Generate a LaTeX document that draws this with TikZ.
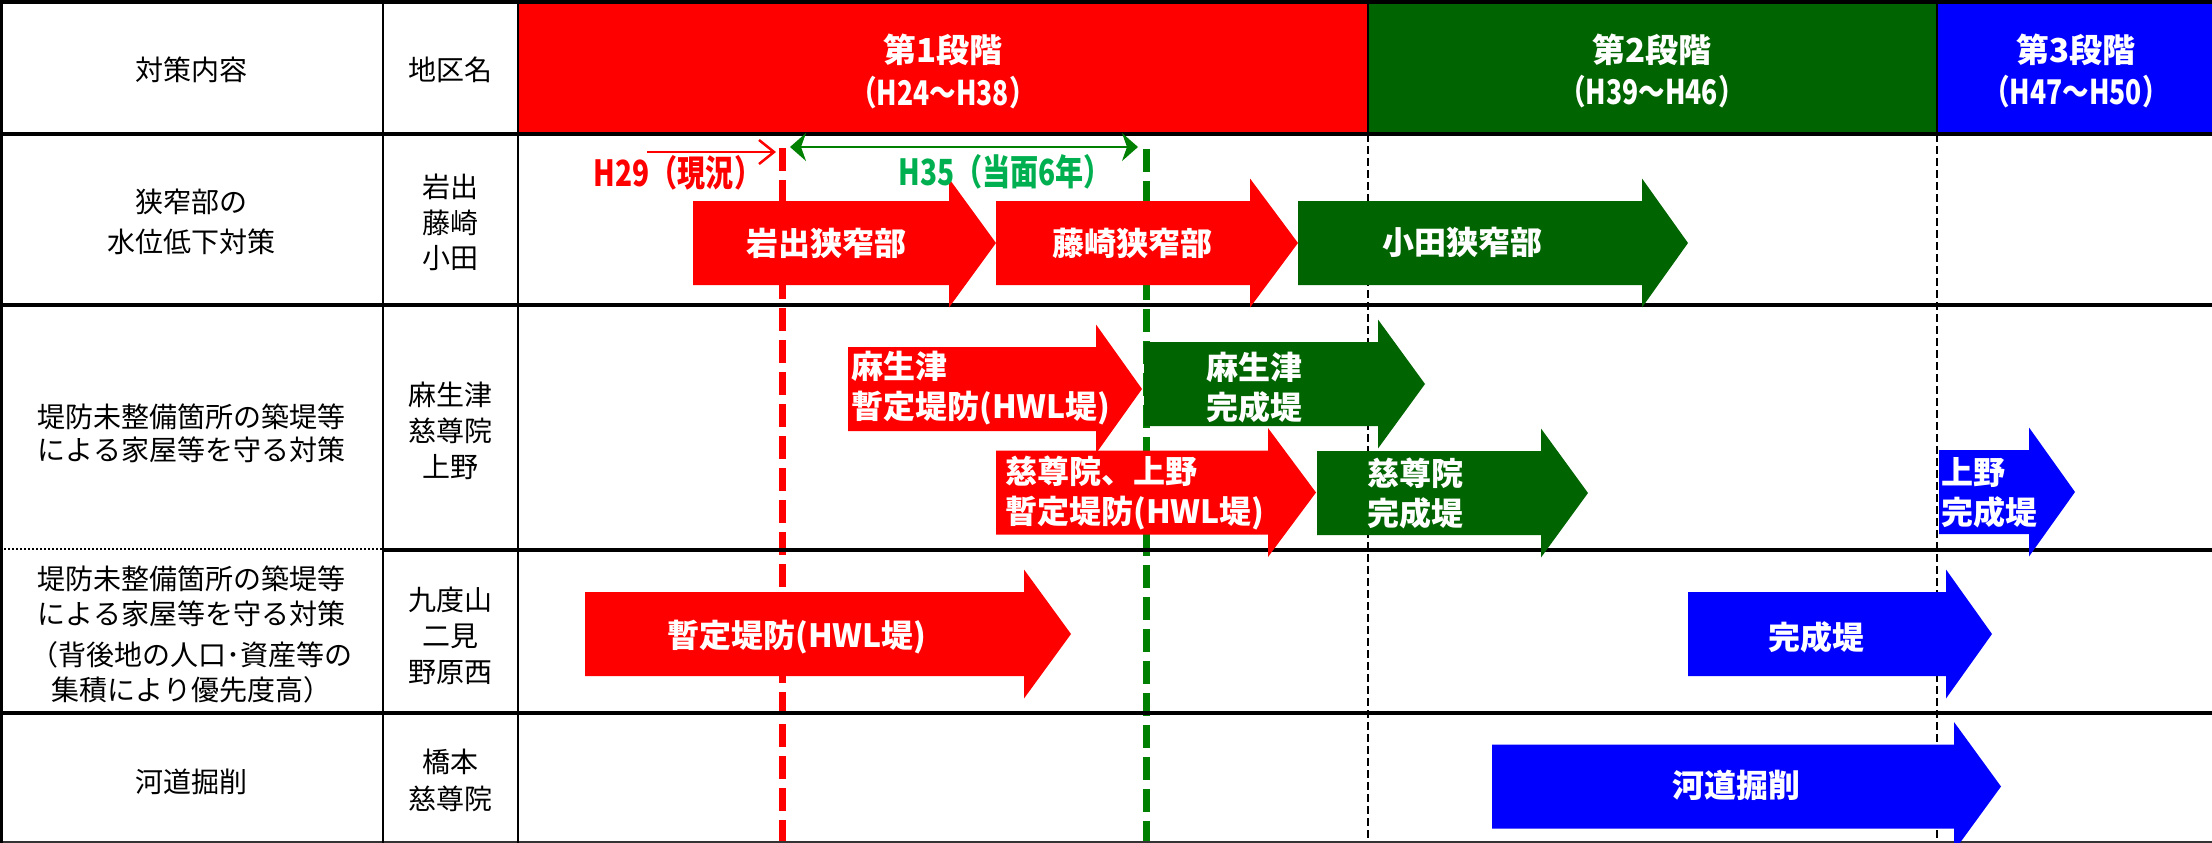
\documentclass[tikz,border=0pt]{standalone}
\usepackage{fontspec}
\setmainfont{Noto Sans CJK JP}
\newfontfamily\condfont[FakeStretch=0.78]{Noto Sans CJK JP}
\usetikzlibrary{arrows.meta}
\definecolor{cred}{RGB}{255,0,0}
\definecolor{cgreen}{RGB}{0,100,0}
\definecolor{cblue}{RGB}{0,0,255}
\definecolor{lgreen}{RGB}{0,176,80}
\definecolor{dgreen}{RGB}{0,128,0}
% block arrow: colour, x start, x head base, x tip, y centre
\newcommand\blockarrow[5]{\fill[#1] ({#2},{#5-42}) -- ({#3},{#5-42}) -- ({#3},{#5-64.5}) -- ({#4},{#5}) -- ({#3},{#5+64.5}) -- ({#3},{#5+42}) -- ({#2},{#5+42}) -- cycle;}
\begin{document}
\begin{tikzpicture}[x=1pt,y=-1pt,
  cell/.style={inner sep=0pt, align=center, font=\fontsize{28}{35}\selectfont},
  stagetxt/.style={inner sep=0pt, text=white, font=\bfseries\fontsize{33}{38}\selectfont},
  stagesub/.style={inner sep=0pt, text=white, font=\condfont\bfseries\fontsize{34}{40}\selectfont},
  albl/.style={inner sep=0pt, text=white, font=\bfseries\fontsize{32}{40}\selectfont},
  albll/.style={albl, align=left, anchor=west},
  hline/.style={line width=3.5pt, black},
  vline/.style={line width=1.8pt, black},
  bdash/.style={line width=1.5pt, black, dash pattern=on 8pt off 4pt},
  thickdash/.style={line width=7pt, dash pattern=on 23pt off 9pt},
  marker/.style={inner sep=0pt, font=\condfont\bfseries\fontsize{36}{40}\selectfont}
]
\useasboundingbox (0,0) rectangle (2212,843);
\clip (0,0) rectangle (2212,843);
% header fills
\fill[cred] (518,0) rectangle (1368,134);
\fill[cgreen] (1368,0) rectangle (1937,134);
\fill[cblue] (1937,0) rectangle (2212,134);
% vertical dashed stage borders
\draw[bdash] (1368,134) -- (1368,843);
\draw[bdash] (1937,134) -- (1937,843);
% thick dashed markers
\coordinate (rdtop) at (782,148);
\coordinate (rdbot) at (782,843);
\coordinate (gdtop) at (1146,149);
\coordinate (gdbot) at (1146,843);
\draw[thickdash, cred] (rdtop) -- (rdbot);
\draw[thickdash, dgreen] (gdtop) -- (gdbot);
% grid
\draw[hline] (0,2) -- (2212,2);
\draw[hline] (0,134) -- (2212,134);
\draw[hline] (0,305) -- (2212,305);
\draw[hline] (383,550) -- (2212,550);
\draw[line width=2pt, black, dash pattern=on 2pt off 2pt] (0,549) -- (383,549);
\draw[hline] (0,713) -- (2212,713);
\draw[line width=2pt, black!80] (0,842) -- (2212,842);
\draw[line width=3pt, black] (1.5,0) -- (1.5,843);
\draw[vline] (383,0) -- (383,843);
\draw[vline] (518,0) -- (518,843);
\draw[vline] (1368,0) -- (1368,134);
\draw[vline] (1937,0) -- (1937,134);
% block arrows
\blockarrow{cred}{693}{949}{996}{243}
\blockarrow{cred}{996}{1250}{1298}{243}
\blockarrow{cgreen}{1298}{1642}{1688}{243}
\blockarrow{cred}{848}{1096}{1142}{389}
\blockarrow{cgreen}{1144}{1378}{1425}{384}
\blockarrow{cred}{996}{1268}{1316}{492.5}
\blockarrow{cgreen}{1317}{1541}{1588}{493}
\blockarrow{cblue}{1939}{2029}{2075}{492}
\blockarrow{cred}{585}{1024}{1071}{634}
\blockarrow{cblue}{1688}{1946}{1992}{634}
\blockarrow{cblue}{1492}{1954}{2001}{786.5}
% header texts
\node[cell] (hdrA) at (191.5,70) {対策内容};
\node[cell] (hdrB) at (450.5,70) {地区名};
\node[stagetxt] (st1) at (943,50) {第1段階};
\node[stagesub] (st1s) at (943,93) {（H24～H38）};
\node[stagetxt] (st2) at (1652,50) {第2段階};
\node[stagesub] (st2s) at (1652,92) {（H39～H46）};
\node[stagetxt] (st3) at (2076,50) {第3段階};
\node[stagesub] (st3s) at (2076,92) {（H47～H50）};
% left columns
\node[cell, font=\fontsize{28}{40}\selectfont] (r1a) at (191.5,222) {狭窄部の\\水位低下対策};
\node[cell, font=\fontsize{28}{35.5}\selectfont] (r1b) at (450.5,222.5) {岩出\\藤崎\\小田};
\node[cell, font=\fontsize{28}{33}\selectfont] (r2a) at (191.5,433) {堤防未整備箇所の築堤等\\による家屋等を守る対策};
\node[cell, font=\fontsize{28}{36}\selectfont] (r2b) at (450.5,431) {麻生津\\慈尊院\\上野};
\node[cell] (r3a) at (191.5,596.5) {堤防未整備箇所の築堤等\\による家屋等を守る対策};
\node[cell] (r3c) at (191.5,672.5) {（背後地の人口･資産等の\\集積により優先度高）};
\node[cell, font=\fontsize{28}{36}\selectfont] (r3b) at (450.5,636) {九度山\\二見\\野原西};
\node[cell] (r4a) at (191.5,782) {河道掘削};
\node[cell, font=\fontsize{28}{37}\selectfont] (r4b) at (450.5,780.5) {橋本\\慈尊院};
% arrow labels
\node[albl] (l1) at (826,243) {岩出狭窄部};
\node[albl] (l2) at (1132,243) {藤崎狭窄部};
\node[albl] (l3) at (1462,242) {小田狭窄部};
\node[albll] (l4) at (851,388) {麻生津\\暫定堤防(HWL堤)};
\node[albll] (l5) at (1206,388) {麻生津\\完成堤};
\node[albll] (l6) at (1005,493) {慈尊院、上野\\暫定堤防(HWL堤)};
\node[albll] (l7) at (1367,493) {慈尊院\\完成堤};
\node[albll] (l8) at (1941,492.5) {上野\\完成堤};
\node[albl] (l9) at (797,637) {暫定堤防(HWL堤)};
\node[albl] (l10) at (1816,637) {完成堤};
\node[albl] (l11) at (1736,785) {河道掘削};
% markers
\node[marker, text=cred] (h29) at (678,173) {H29（現況）};
\node[marker, text=lgreen] (h35) at (1005,172) {H35（当面6年）};
\coordinate (h29s) at (647,152);
\coordinate (h29e) at (776,152);
\draw[cred, line width=1.5pt, -{Straight Barb[length=15pt,width=24pt,line width=2.5pt]}] (h29s) -- (h29e);
\coordinate (g1) at (790,147);
\coordinate (g2) at (1138,147);
\draw[dgreen, line width=1.5pt, {Stealth[length=16pt,width=28pt,inset=5pt]}-{Stealth[length=16pt,width=28pt,inset=5pt]}] (g1) -- (g2);
\end{tikzpicture}
\end{document}
